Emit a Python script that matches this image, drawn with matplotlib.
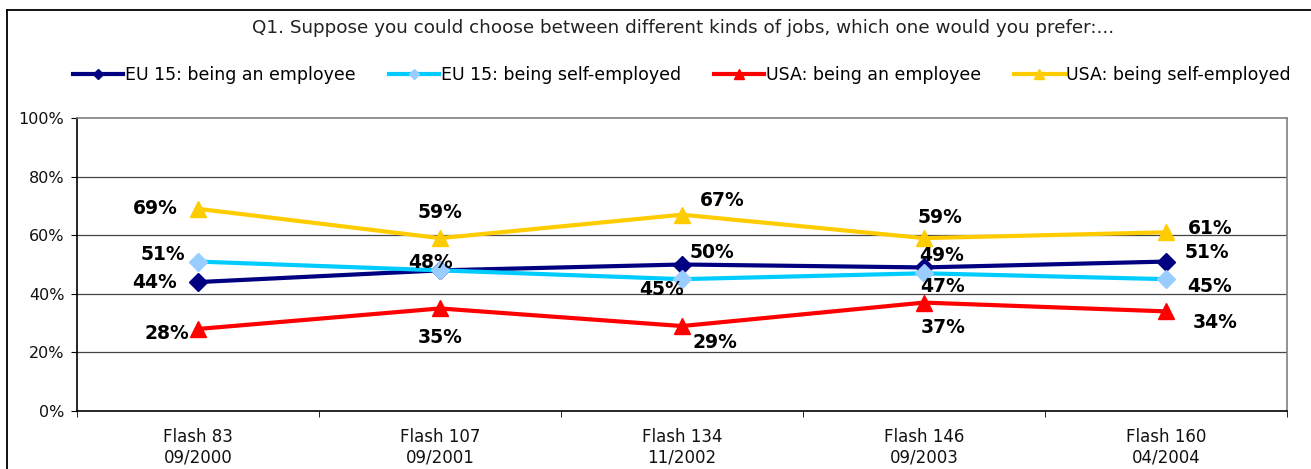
import numpy as np
import matplotlib
matplotlib.use('Agg')
import matplotlib.pyplot as plt
from matplotlib.lines import Line2D

# survey waves
waves = ['Flash 83\n09/2000', 'Flash 107\n09/2001', 'Flash 134\n11/2002',
         'Flash 146\n09/2003', 'Flash 160\n04/2004']

eu_employee = [44, 48, 50, 49, 51]
eu_self = [51, 48, 45, 47, 45]
usa_employee = [28, 35, 29, 37, 34]
usa_self = [69, 59, 67, 59, 61]

series_names = ['EU 15: being an employee', 'EU 15: being self-employed',
                'USA: being an employee', 'USA: being self-employed']

# label offsets in pixels (dx, dy), dy positive = up
off_eu_emp = [(-43, 0), (-9, 8), (30, 12), (18, 12), (41, 9)]
off_eu_self = [(-35, 7), (0, 0), (-20, -10), (19, -13), (44, -7)]
off_usa_emp = [(-31, -5), (0, -29), (33, -16), (19, -25), (49, -11)]
off_usa_self = [(-43, 0), (0, 26), (40, 14), (16, 21), (44, 4)]

W, H = 1311, 469
fig = plt.figure(figsize=(W/100, H/100), dpi=100)
ax = fig.add_axes([77/W, 1-411/H, (1287-77)/W, (411-118)/H])

x = np.arange(len(waves))

ax.plot(x, eu_employee, color='#000080', lw=3, marker='D', ms=9, mfc='#000080', mec='#000080', zorder=3)
ax.plot(x, eu_self, color='#00CCFF', lw=3, marker='D', ms=9, mfc='#99CCFF', mec='#99CCFF', zorder=3)
ax.plot(x, usa_employee, color='#FF0000', lw=3, marker='^', ms=12, mfc='#FF0000', mec='#FF0000', zorder=3)
ax.plot(x, usa_self, color='#FFCC00', lw=3, marker='^', ms=12, mfc='#FFCC00', mec='#FFCC00', zorder=3)

lbl_font = dict(fontsize=13.5, fontweight='bold', color='black', ha='center', va='center', family='DejaVu Sans')
for vals, offs in [(usa_self, off_usa_self), (usa_employee, off_usa_emp),
                   (eu_self, off_eu_self), (eu_employee, off_eu_emp)]:
    for i, v in enumerate(vals):
        if vals is eu_self and i == 1:
            continue  # 48% shared label
        ax.annotate('%d%%' % v, (x[i], v), xytext=offs[i], textcoords='offset pixels', zorder=5, **lbl_font)

ax.set_xlim(-0.5, 4.5)
ax.set_ylim(0, 100)
ax.set_yticks(np.arange(0, 101, 20))
ax.set_yticklabels(['%d%%' % t for t in range(0, 101, 20)], fontsize=11.5, color='#111111')
ax.set_xticks(x)
ax.set_xticklabels(waves, fontsize=12, color='#111111', linespacing=1.2)
ax.set_xticks(np.arange(-0.5, 4.6, 1), minor=True)
ax.tick_params(axis='x', which='major', length=0, pad=12)
ax.tick_params(axis='x', which='minor', length=4, direction='out', color='black')
ax.tick_params(axis='y', length=4, direction='out', pad=5)

for g in [20, 40, 60, 80]:
    ax.axhline(g, color='#444444', lw=0.9, zorder=1)

ax.spines['left'].set_color('black')
ax.spines['bottom'].set_color('black')
ax.spines['top'].set_color('#808080')
ax.spines['right'].set_color('#808080')
for s in ax.spines.values():
    s.set_linewidth(1.2)

fig.text(683/W, 1-28/H, 'Q1. Suppose you could choose between different kinds of jobs, which one would you prefer:...',
         ha='center', va='center', fontsize=13.2, color='#222222')

handles = [
    Line2D([], [], color='#000080', lw=3, marker='D', ms=5, mfc='#000080', mec='#000080'),
    Line2D([], [], color='#00CCFF', lw=3, marker='D', ms=5, mfc='#99CCFF', mec='#99CCFF'),
    Line2D([], [], color='#FF0000', lw=3, marker='^', ms=7, mfc='#FF0000', mec='#FF0000'),
    Line2D([], [], color='#FFCC00', lw=3, marker='^', ms=7, mfc='#FFCC00', mec='#FFCC00'),
]
fig.legend(handles, series_names, loc='center', bbox_to_anchor=(682/W, 1-75/H), ncol=4,
           frameon=False, fontsize=12.5, handlelength=2.9, handletextpad=0.1, columnspacing=1.9)

# outer chart frame
fig.add_artist(Line2D([7/W, 7/W], [0, 1-10/H], transform=fig.transFigure, color='black', lw=1.3))
fig.add_artist(Line2D([7/W, 1], [1-10/H, 1-10/H], transform=fig.transFigure, color='black', lw=1.3))

plt.savefig('out.png', dpi=100)
